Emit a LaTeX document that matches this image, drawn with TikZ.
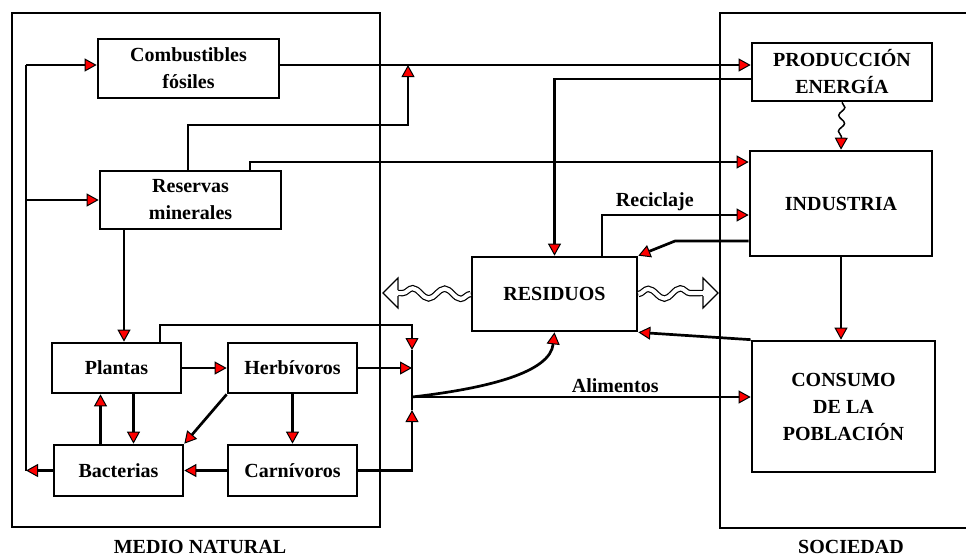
\documentclass[tikz,border=0pt]{standalone}
\usepackage{fontspec}
\setmainfont{Liberation Serif}
\usetikzlibrary{arrows.meta, decorations.pathmorphing}

\begin{document}
\begin{tikzpicture}[x=1pt, y=-1pt,
            every node/.style={font=\bfseries\fontsize{20}{27}\selectfont},
            box/.style={
                draw,
                align=center,
                inner sep=0pt,
                },
            >={Triangle[length=12pt, width=13pt, fill=red, line width=1pt]},
            line width=2.7pt,
            snk/.style={line width=1.5pt, decorate,
                decoration={snake, amplitude=3pt, segment length=16pt, post length=13pt}},
            wave/.style={line width=1.2pt, double distance=4pt, decorate,
                decoration={snake, amplitude=5pt, segment length=32pt}}]

        \clip (0,0) rectangle (966,558);

        \draw (12,13) rectangle (380,527);
        \draw (720,13) rectangle (1000,528);
        \node[anchor=base] (mn) at (200,553) {MEDIO NATURAL};
        \node[anchor=base] (so) at (851,553) {SOCIEDAD};

        \node[box, minimum width=181, minimum height=59] (cf) at (188.5,68.5) {Combustibles\\fósiles};
        \node[box, minimum width=181, minimum height=58] (rm) at (190.5,200) {Reservas\\minerales};
        \node[box, minimum width=129, minimum height=50] (pl) at (116.5,368) {Plantas};
        \node[box, minimum width=129, minimum height=50] (hb) at (292.5,368) {Herbívoros};
        \node[box, minimum width=129, minimum height=51] (bc) at (118.5,470.5) {Bacterias};
        \node[box, minimum width=129, minimum height=51] (cv) at (292.5,470.5) {Carnívoros};
        \node[box, minimum width=165, minimum height=74] (rs) at (554.5,294) {RESIDUOS};
        \node[box, minimum width=180, minimum height=58] (pe) at (842,72) {PRODUCCIÓN\\ENERGÍA};
        \node[box, minimum width=182, minimum height=105] (ind) at (841,203.5) {INDUSTRIA};
        \node[box, minimum width=183, minimum height=131] (cp) at (843.5,406.5) {CONSUMO\\DE LA\\POBLACIÓN};

        \coordinate (sp) at (26,65);
        \coordinate (r1) at (188,125);
        \coordinate (r2) at (408,125);
        \coordinate (r3) at (250,162);
        \coordinate (r4) at (124,300);
        \coordinate (p1) at (160,325);
        \coordinate (ja) at (412,350);
        \coordinate (jn) at (412,397);
        \coordinate (jb) at (412,410);
        \coordinate (pr) at (554,79);
        \coordinate (rc) at (602,215);
        \coordinate (ir) at (675,241);
        \coordinate (wl) at (398,293);
        \coordinate (wr) at (703,293);

        % medio natural
        \draw (bc.west -| sp) -- (sp);
        \draw[->] (bc.west) -- (bc.west -| sp);
        \draw[->] (sp) -- (sp -| cf.west);
        \draw[->] (rm.west -| sp) -- (rm.west);
        \draw[->] (rm.south -| r4) -- (pl.north -| r4);
        \draw[->] (pl.east) -- (hb.west);
        \draw[->] ([xshift=17pt]pl.south) -- ([xshift=17pt]pl.south |- bc.north);
        \draw[->] ([xshift=-18pt]bc.north) -- ([xshift=-18pt]bc.north |- pl.south);
        \draw[->] (hb.south west) -- (bc.north east);
        \draw[->] (hb.south) -- (cv.north);
        \draw[->] (cv.west) -- (bc.east);

        % hacia la sociedad
        \draw[->] (cf.east |- sp) -- (sp -| pe.west);
        \draw[->] (rm.north -| r1) |- (r2) -- (r2 |- sp);
        \draw[->] (rm.north -| r3) |- (r3 -| ind.west);
        \draw[->] (pl.north -| p1) |- (ja |- p1) -- (ja);
        \draw[->] (hb.east) -- (hb.east -| jn);
        \draw[->] (cv.east) -| (jb);
        \draw (ja) -- (jb);
        \draw[->] (jn) -- node[above, pos=0.6] {Alimentos} (jn -| cp.west);
        \draw[->] (jn) .. controls (490,388) and (550,372) .. (rs.south);

        % sociedad
        \draw[->, snk] (pe.south) -- (ind.north);
        \draw[->] (ind.south) -- (ind.south |- cp.north);
        \draw[->] (pr -| pe.west) -| (rs.north);
        \draw[->] (rs.north -| rc) |- node[pos=0.68, above] {Reciclaje} (rc -| ind.west);
        \draw[->] (ir -| ind.west) -- (ir) -- (rs.north east);
        \draw[->] (cp.north west) -- (rs.south east);

        % flechas onduladas
        \draw[wave] (rs.west) -- (wl);
        \draw[wave] (rs.east) -- (wr);
        \fill[white] (wl) ++(0,-3) -- ++(0,-12) -- ++(-15,15) -- ++(15,15) -- ++(0,-12) -- cycle;
        \draw[line width=1.2pt] (wl) ++(0,-3) -- ++(0,-12) -- ++(-15,15) -- ++(15,15) -- ++(0,-12);
        \fill[white] (wr) ++(0,-3) -- ++(0,-12) -- ++(15,15) -- ++(-15,15) -- ++(0,-12) -- cycle;
        \draw[line width=1.2pt] (wr) ++(0,-3) -- ++(0,-12) -- ++(15,15) -- ++(-15,15) -- ++(0,-12);

    \end{tikzpicture}
\end{document}
